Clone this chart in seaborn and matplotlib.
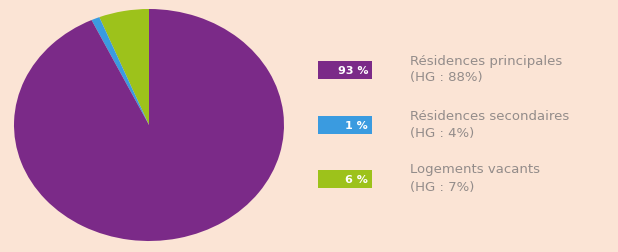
import matplotlib
matplotlib.use("Agg")
import matplotlib.pyplot as plt
import seaborn as sns
from matplotlib.patches import Rectangle

sns.set_theme(style="white")
plt.rcParams["font.family"] = ["DejaVu Sans"]

# data
categories = ["Résidences principales", "Résidences secondaires", "Logements vacants"]
shares = [93, 1, 6]
hg_shares = [88, 4, 7]
colors = sns.color_palette(["#7b2a88", "#3a9be0", "#9dc21b"])

bg = "#fbe4d5"
W, H = 618, 253

fig = plt.figure(figsize=(W / 100, H / 100), dpi=100, facecolor=bg)

# pie (slightly elliptical, as in the reference)
cx, cy, rx, ry = 149, 126, 135, 116
ax = fig.add_axes([(cx - rx) / W, (H - cy - ry) / H, 2 * rx / W, 2 * ry / H])
ax.set_facecolor(bg)
order = [2, 1, 0]
ax.pie([shares[i] for i in order], colors=[colors[i] for i in order],
       startangle=90, counterclock=True, radius=1.0,
       wedgeprops=dict(linewidth=0))
ax.set_aspect("auto")
ax.set_xlim(-1, 1)
ax.set_ylim(-1, 1)
ax.axis("off")

# legend boxes + labels
box_x0, box_x1 = 318, 372
box_tops = [62, 117, 171]
box_h = 18
text_x = 410
for i, (cat, s, hg) in enumerate(zip(categories, shares, hg_shares)):
    top = box_tops[i]
    fig.add_artist(Rectangle((box_x0 / W, (H - top - box_h) / H),
                             (box_x1 - box_x0) / W, box_h / H,
                             transform=fig.transFigure, facecolor=colors[i],
                             edgecolor="none"))
    fig.text((box_x1 - 4) / W, (H - top - box_h / 2) / H, f"{s} %",
             ha="right", va="center", color="white", fontsize=8,
             fontweight="bold")
    fig.text(text_x / W, (H - top + 1) / H, cat, ha="left", va="center",
             color="#938c8a", fontsize=9.5)
    fig.text(text_x / W, (H - top - 16) / H, f"(HG : {hg}%)", ha="left",
             va="center", color="#938c8a", fontsize=9.5)

fig.savefig("out.png", dpi=100, facecolor=bg)
